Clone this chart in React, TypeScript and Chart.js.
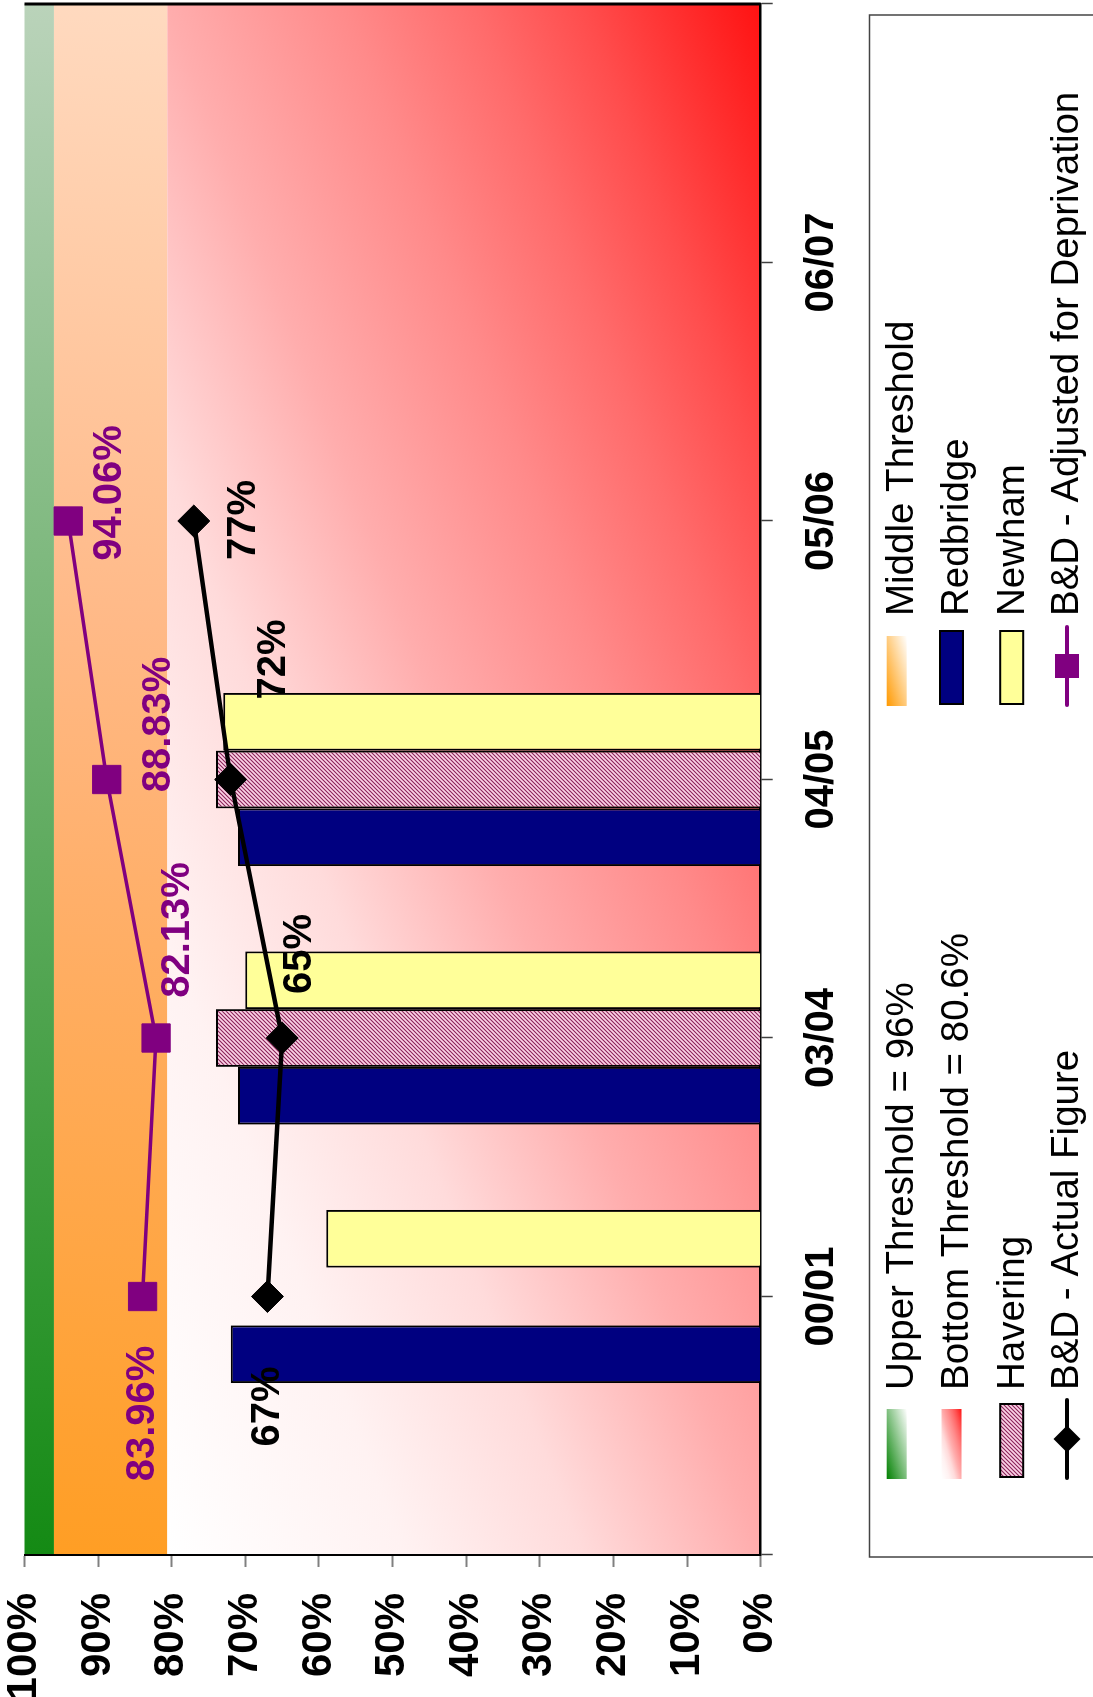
import React, { useEffect, useRef } from 'react';
import { Chart, registerables } from 'chart.js';

Chart.register(...registerables);

// ---- data ----
const categories = ['00/01', '03/04', '04/05', '05/06', '06/07'];
const redbridge = [72, 71, 71, null, null];
const havering = [null, 74, 74, null, null];
const newham = [59, 70, 73, null, null];
const bdActual = [67, 65, 72, 77, null];
const bdAdjusted = [83.96, 82.13, 88.83, 94.06, null];
const upperThreshold = 96;
const bottomThreshold = 80.6;
const yMin = 0;
const yMax = 100;
const yStep = 10;

// label offsets (styling, unrotated px)
const actualLabelOffsets = [[-110, 1], [84, 18], [120, 43], [1, 50]];
const adjustedLabelOffsets = [[-117, 0], [108, 22], [55, 52], [28, 42]];

const FONT = '"Liberation Sans", Arial, Helvetica, sans-serif';
const W = 1697;
const H = 1093;

const pad = (arr: (number | null)[]) => [null, ...arr, null];
const labels = ['', ...categories, ''];

function diagGradient(ctx: CanvasRenderingContext2D, x: number, y: number, w: number, h: number, dirX: number, dirY: number, stops: [number, string][]) {
  const cx = dirX > 0 ? x : x + w;
  const cy = dirY > 0 ? y : y + h;
  const s = 2 / (1 / (w * w) + 1 / (h * h));
  const g = ctx.createLinearGradient(cx, cy, cx + dirX * s / w, cy + dirY * s / h);
  stops.forEach(([t, c]) => g.addColorStop(t, c));
  return g;
}

const redIntensity: [number, number][] = [[0, 0], [0.2, 0.05], [0.35, 0.14], [0.5, 0.32], [0.65, 0.46], [0.76, 0.58], [0.85, 0.7], [0.95, 0.85], [1, 0.93]];
const redStops: [number, string][] = redIntensity.map(([t, i]) => {
  const c = Math.round(255 * (1 - i));
  return [t, `rgb(255,${c},${c})`];
});

function makeHatch(ctx: CanvasRenderingContext2D) {
  const c = document.createElement('canvas');
  c.width = 4; c.height = 4;
  const x = c.getContext('2d')!;
  x.fillStyle = '#fbd3e6';
  x.fillRect(0, 0, 4, 4);
  x.strokeStyle = '#8a2258';
  x.lineWidth = 1.1;
  x.beginPath();
  x.moveTo(-1, 5); x.lineTo(5, -1);
  x.moveTo(-1, 1); x.lineTo(1, -1);
  x.moveTo(3, 5); x.lineTo(5, 3);
  x.stroke();
  return ctx.createPattern(c, 'repeat')!;
}

const zeroPad = (s: any) => {
  s.paddingTop = 0;
  s.paddingBottom = 0;
  s.paddingLeft = 0;
  s.paddingRight = 0;
};

export default function App() {
  const ref = useRef<HTMLCanvasElement>(null);

  useEffect(() => {
    document.documentElement.style.overflow = 'hidden';
    document.body.style.margin = '0';
    const canvas = ref.current!;
    const ctx = canvas.getContext('2d')!;
    const hatch = makeHatch(ctx);

    const bgPlugin = {
      id: 'bgPlugin',
      beforeDraw(chart: any) {
        const c = chart.ctx as CanvasRenderingContext2D;
        const a = chart.chartArea;
        const y = chart.scales.y;
        c.save();
        c.fillStyle = '#fff';
        c.fillRect(0, 0, chart.width, chart.height);
        const yTop = y.getPixelForValue(yMax);
        const yU = y.getPixelForValue(upperThreshold);
        const yB = y.getPixelForValue(bottomThreshold);
        const y0 = y.getPixelForValue(yMin);
        const w = a.right - a.left;
        // green band
        const g = c.createLinearGradient(a.left, 0, a.right, 0);
        g.addColorStop(0, 'rgb(20,138,20)');
        g.addColorStop(1, 'rgb(186,211,186)');
        c.fillStyle = g;
        c.fillRect(a.left, yTop, w, yU - yTop);
        // orange band
        const o = c.createLinearGradient(a.left, yU, a.right, yU + 120);
        o.addColorStop(0, 'rgb(255,158,36)');
        o.addColorStop(0.42, 'rgb(255,175,105)');
        o.addColorStop(0.6, 'rgb(255,185,135)');
        o.addColorStop(1, 'rgb(255,218,192)');
        c.fillStyle = o;
        c.fillRect(a.left, yU, w, yB - yU);
        // red region
        c.fillStyle = diagGradient(c, a.left, yB, w, y0 - yB, 1, 1, redStops);
        c.fillRect(a.left, yB, w, y0 - yB);
        c.restore();
      },
      afterDatasetsDraw(chart: any) {
        const c = chart.ctx as CanvasRenderingContext2D;
        const a = chart.chartArea;
        c.save();
        c.strokeStyle = '#000';
        c.lineWidth = 3;
        c.beginPath();
        c.moveTo(a.right, a.top);
        c.lineTo(a.right, a.bottom);
        c.stroke();
        c.font = `bold 40px ${FONT}`;
        c.textAlign = 'center';
        c.textBaseline = 'middle';
        const drawSet = (idx: number, values: (number | null)[], offs: number[][], color: string, fmt: (v: number) => string) => {
          const meta = chart.getDatasetMeta(idx);
          values.forEach((v, i) => {
            if (v == null) return;
            const el = meta.data[i + 1];
            const [dx, dy] = offs[i];
            c.fillStyle = color;
            c.fillText(fmt(v), el.x + dx, el.y + dy);
          });
        };
        drawSet(0, bdActual, actualLabelOffsets, '#000', (v) => `${Math.round(v)}%`);
        drawSet(1, bdAdjusted, adjustedLabelOffsets, '#800080', (v) => `${v.toFixed(2)}%`);
        c.restore();
      },
      afterDraw(chart: any) {
        const c = chart.ctx as CanvasRenderingContext2D;
        c.save();
        // legend box
        c.strokeStyle = '#444';
        c.lineWidth = 1.5;
        c.strokeRect(140, 869.5, 1542, 300);
        const rows = [896.7, 951.5, 1011.7, 1067];
        const baselines = [912.6, 967.6, 1024.3, 1077.6];
        const swX = [218, 991];
        const txX = [307, 1081];
        c.font = `38.5px ${FONT}`;
        c.fillStyle = '#000';
        c.textBaseline = 'alphabetic';
        c.textAlign = 'left';
        const items = [
          { col: 0, row: 0, text: `Upper Threshold = ${upperThreshold}%`, kind: 'green' },
          { col: 0, row: 1, text: `Bottom Threshold = ${bottomThreshold}%`, kind: 'red' },
          { col: 0, row: 2, text: 'Havering', kind: 'hatch' },
          { col: 0, row: 3, text: 'B&D - Actual Figure', kind: 'lineDiamond' },
          { col: 1, row: 0, text: 'Middle Threshold', kind: 'orange' },
          { col: 1, row: 1, text: 'Redbridge', kind: 'navy' },
          { col: 1, row: 2, text: 'Newham', kind: 'yellow' },
          { col: 1, row: 3, text: 'B&D - Adjusted for Deprivation', kind: 'lineSquare' },
        ];
        items.forEach((it) => {
          const x0 = swX[it.col];
          const cy = rows[it.row];
          if (it.kind === 'green' || it.kind === 'red' || it.kind === 'orange') {
            const sw = 70, sh = 20;
            let fill: any;
            if (it.kind === 'green') fill = diagGradient(c, x0, cy - sh / 2, sw, sh, 1, 1, [[0, '#008000'], [1, '#ffffff']]);
            else if (it.kind === 'orange') fill = diagGradient(c, x0, cy - sh / 2, sw, sh, 1, 1, [[0, '#ff9900'], [1, '#ffffff']]);
            else fill = diagGradient(c, x0, cy - sh / 2, sw, sh, 1, 1, redStops);
            c.fillStyle = fill;
            c.fillRect(x0, cy - sh / 2, sw, sh);
          } else if (it.kind === 'hatch' || it.kind === 'navy' || it.kind === 'yellow') {
            const sw = 73, sh = 23;
            c.fillStyle = it.kind === 'hatch' ? hatch : it.kind === 'navy' ? '#000080' : '#ffff99';
            c.fillRect(x0 + 2, cy - sh / 2, sw, sh);
            c.strokeStyle = '#000';
            c.lineWidth = 2;
            c.strokeRect(x0 + 2, cy - sh / 2, sw, sh);
          } else {
            const col = it.kind === 'lineDiamond' ? '#000' : '#800080';
            c.strokeStyle = col;
            c.lineWidth = 4;
            c.lineCap = 'round';
            c.beginPath();
            c.moveTo(x0 + 1, cy);
            c.lineTo(x0 + 79, cy);
            c.stroke();
            c.fillStyle = col;
            const mx = x0 + 40;
            c.beginPath();
            if (it.kind === 'lineDiamond') {
              c.moveTo(mx - 13.5, cy); c.lineTo(mx, cy - 13.5); c.lineTo(mx + 13.5, cy); c.lineTo(mx, cy + 13.5);
              c.closePath();
            } else {
              c.rect(mx - 12, cy - 12, 24, 24);
            }
            c.fill();
          }
          c.fillStyle = '#000';
          c.fillText(it.text, txX[it.col], baselines[it.row]);
        });
        c.restore();
      },
    };

    const chart = new Chart(ctx, {
      type: 'bar',
      data: {
        labels,
        datasets: [
          {
            type: 'line',
            label: 'B&D - Actual Figure',
            data: pad(bdActual),
            borderColor: '#000000',
            backgroundColor: '#000000',
            borderWidth: 4.5,
            pointStyle: 'rectRot',
            pointRadius: 16,
            pointBorderWidth: 1,
            order: 0,
          } as any,
          {
            type: 'line',
            label: 'B&D - Adjusted for Deprivation',
            data: pad(bdAdjusted),
            borderColor: '#800080',
            backgroundColor: '#800080',
            borderWidth: 3.5,
            pointStyle: 'rect',
            pointRadius: 20,
            pointBorderWidth: 1,
            order: 0,
          } as any,
          {
            label: 'Redbridge',
            data: pad(redbridge),
            backgroundColor: '#000080',
            borderColor: '#000000',
            borderWidth: 2,
            categoryPercentage: 0.67,
            barPercentage: 1,
            order: 1,
          } as any,
          {
            label: 'Havering',
            data: pad(havering),
            backgroundColor: hatch,
            borderColor: '#000000',
            borderWidth: 2,
            categoryPercentage: 0.67,
            barPercentage: 1,
            order: 1,
          } as any,
          {
            label: 'Newham',
            data: pad(newham),
            backgroundColor: '#ffff99',
            borderColor: '#000000',
            borderWidth: 2,
            categoryPercentage: 0.67,
            barPercentage: 1,
            order: 1,
          } as any,
        ],
      },
      options: {
        responsive: false,
        devicePixelRatio: 1,
        animation: false,
        layout: { autoPadding: false, padding: { left: 0, right: 4, top: 24.5, bottom: H - 760.7 - 90 } },
        plugins: { legend: { display: false }, tooltip: { enabled: false } },
        scales: {
          x: {
            offset: false,
            grid: { offset: false, drawOnChartArea: false, drawTicks: true, tickLength: 12, tickColor: '#404040', tickWidth: 1.5 },
            border: { display: true, color: '#000', width: 2.5 },
            ticks: { autoSkip: false, maxRotation: 0, minRotation: 0, padding: 25, color: '#000', font: { family: FONT, size: 40, weight: 'bold' } },
            afterFit: (s: any) => { s.height = 90; zeroPad(s); },
          },
          y: {
            min: yMin,
            max: yMax,
            ticks: { stepSize: yStep, padding: 26, color: '#000', font: { family: FONT, size: 42, weight: 'bold', lineHeight: 1 }, callback: (v: any) => `${v}%` },
            grid: { drawOnChartArea: false, drawTicks: true, tickLength: 12, tickColor: '#808080', tickWidth: 2 },
            border: { display: true, color: '#000', width: 2 },
            afterFit: (s: any) => { s.width = 142; zeroPad(s); },
          },
        },
      } as any,
      plugins: [bgPlugin as any],
    });
    return () => chart.destroy();
  }, []);

  return (
    <div
      style={{
        position: 'absolute',
        left: 0,
        top: 0,
        width: W,
        height: H,
        transformOrigin: '0 0',
        transform: `translate(0px, ${W}px) rotate(-90deg)`,
      }}
    >
      <canvas ref={ref} width={W} height={H} style={{ width: W, height: H, display: 'block' }} />
    </div>
  );
}
